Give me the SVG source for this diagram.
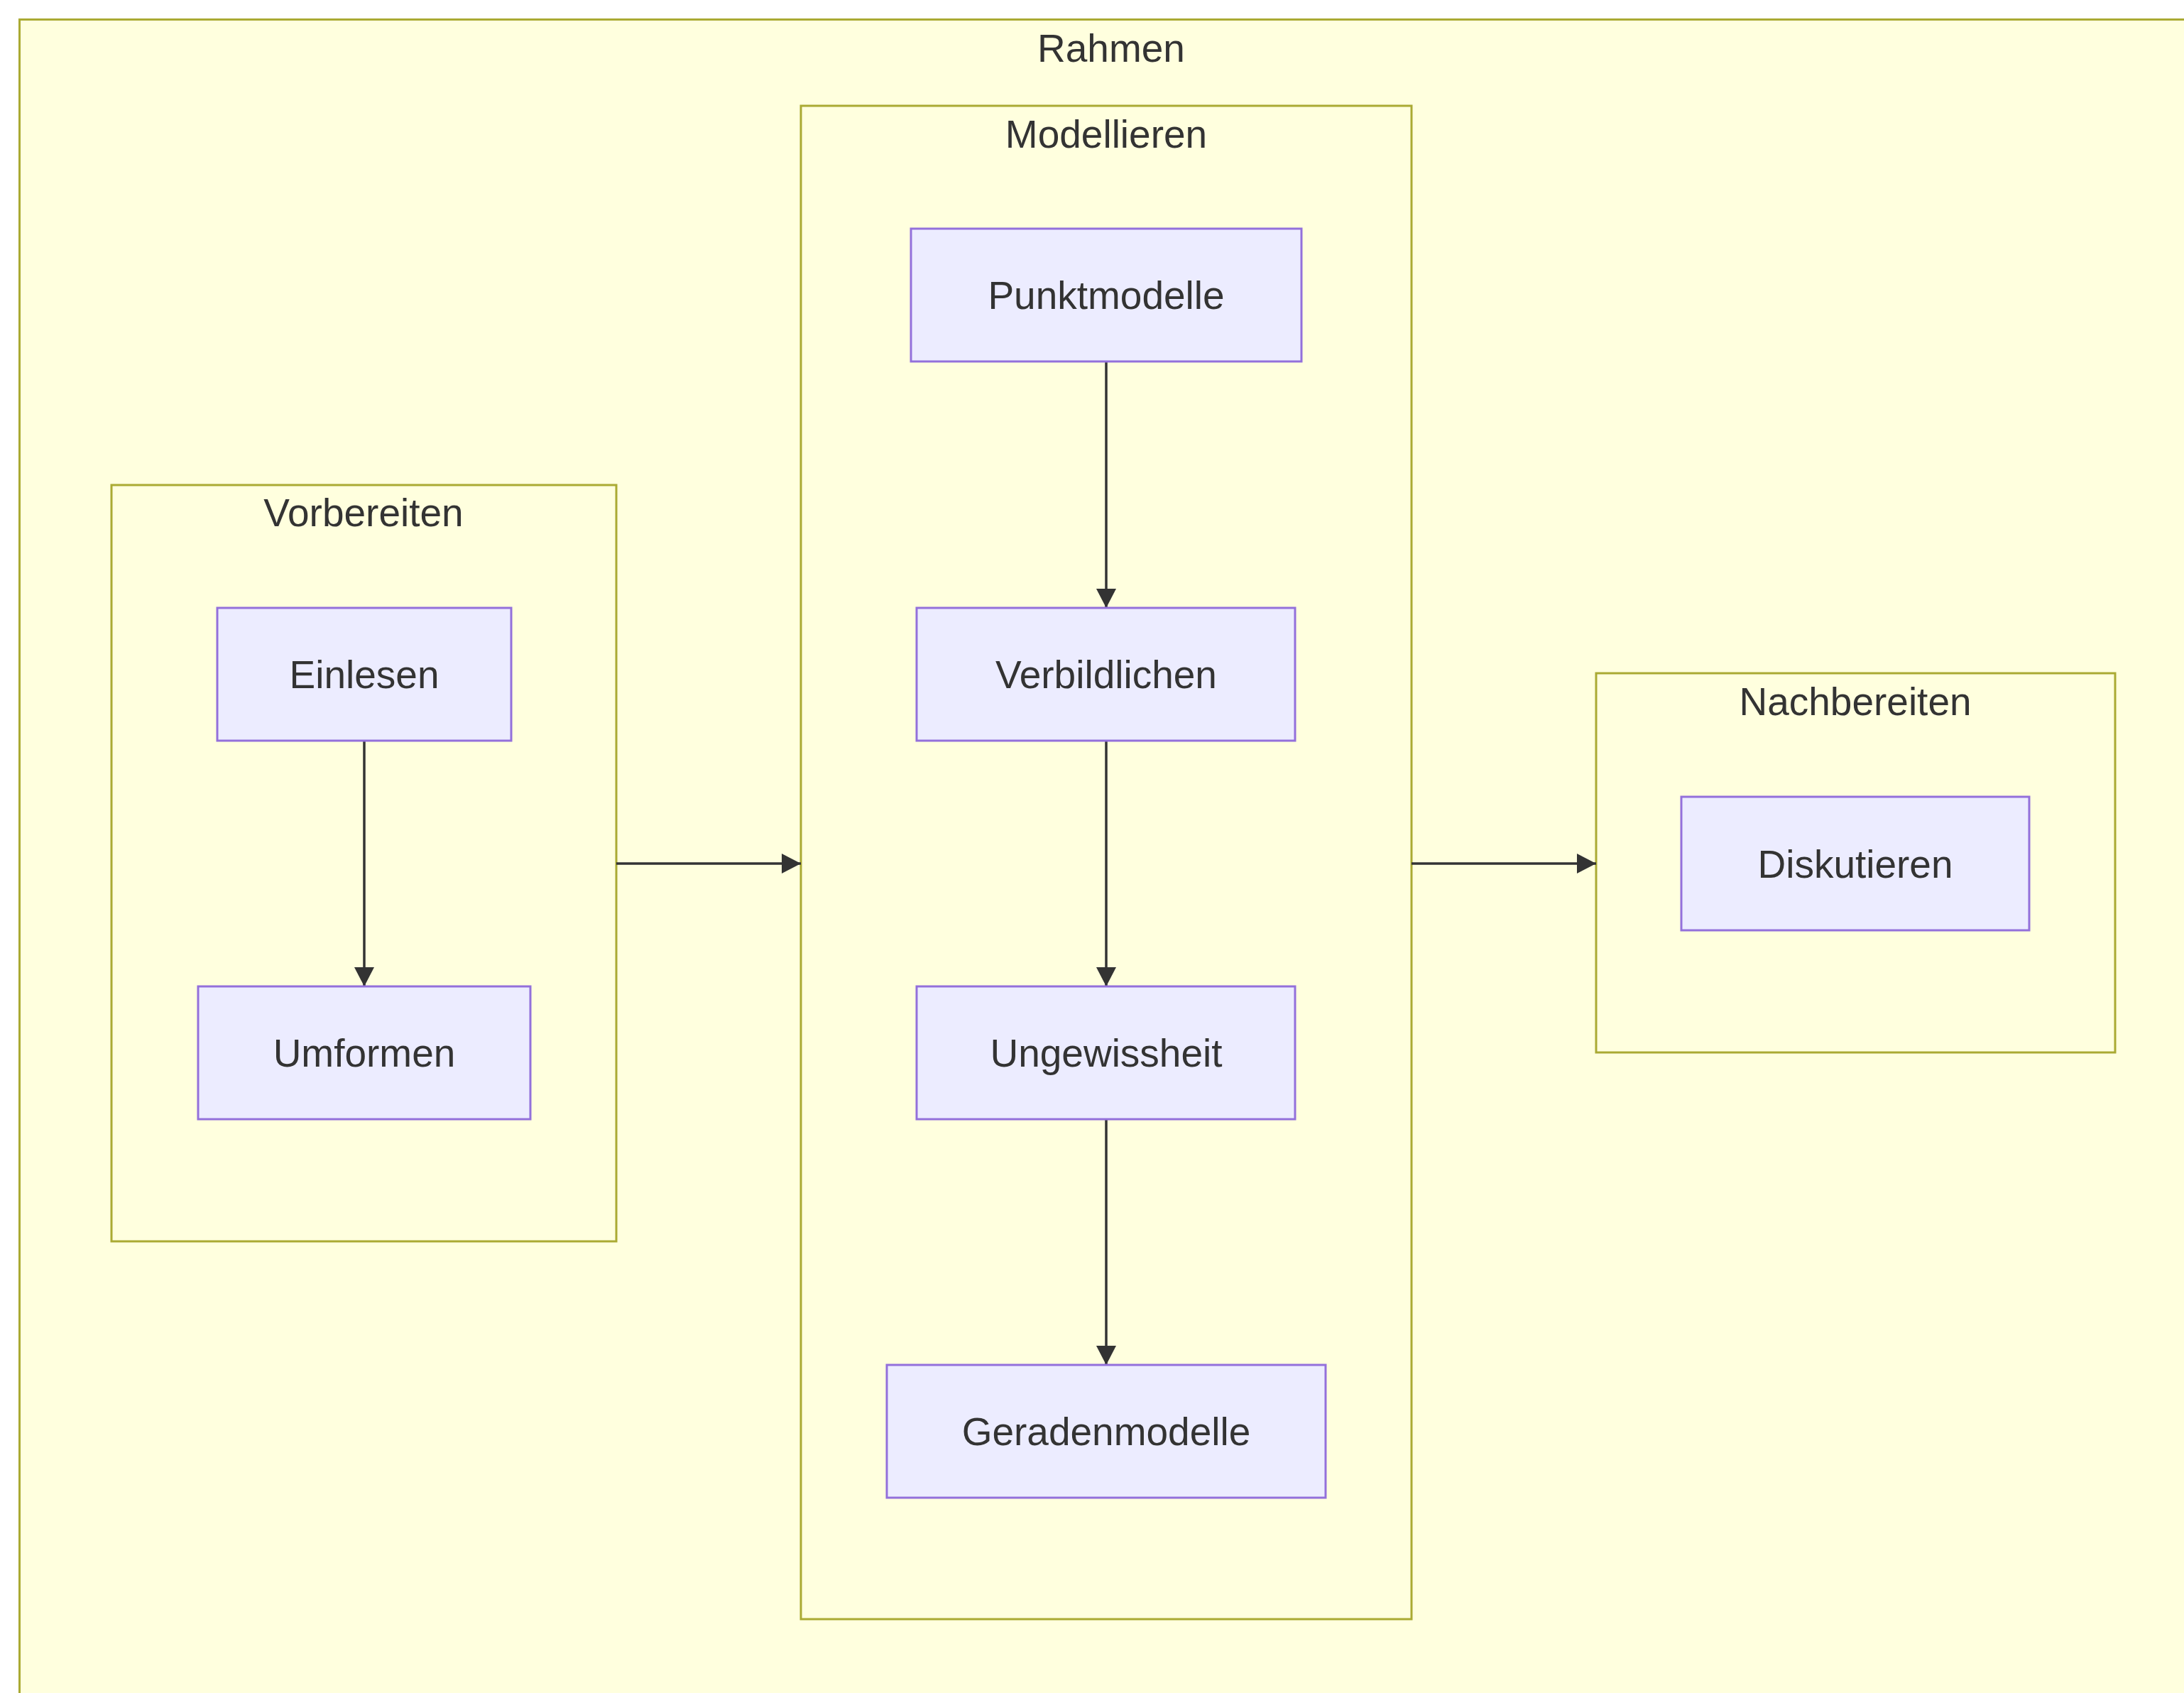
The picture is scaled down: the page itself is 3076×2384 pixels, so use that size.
<svg xmlns="http://www.w3.org/2000/svg" width="3076" height="2384" viewBox="0 0 3076 2384">
<defs>
<style>
.cluster{fill:#ffffde;stroke:#aaaa33;stroke-width:3}
.node rect{fill:#ececff;stroke:#9370db;stroke-width:3}
.lbl{font-family:"Liberation Sans",Arial,sans-serif;font-size:55px;fill:#333333;text-anchor:middle}
.edge{stroke:#333333;stroke-width:3.5;fill:none}
</style>
<marker id="arrow" markerUnits="userSpaceOnUse" markerWidth="28" markerHeight="28" refX="27" refY="14" orient="auto">
<path d="M0,0 L27,14 L0,28 Z" fill="#333333"/>
</marker>
</defs>
<rect width="3076" height="2384" fill="#ffffff"/>
<g id="cluster-Rahmen">
<rect class="cluster" x="27.5" y="27.5" width="3150" height="2500"/>
<text class="lbl" x="1565" y="87">Rahmen</text>
</g>
<g id="cluster-Vorbereiten">
<rect class="cluster" x="157" y="683" width="711" height="1065"/>
<text class="lbl" x="512" y="741">Vorbereiten</text>
</g>
<g id="cluster-Modellieren">
<rect class="cluster" x="1128" y="149" width="860" height="2131"/>
<text class="lbl" x="1558" y="208">Modellieren</text>
</g>
<g id="cluster-Nachbereiten">
<rect class="cluster" x="2248" y="948" width="731" height="534"/>
<text class="lbl" x="2613" y="1007">Nachbereiten</text>
</g>
<g id="connectors">
<line class="edge" x1="513" y1="1043" x2="513" y2="1389" marker-end="url(#arrow)"/>
<line class="edge" x1="1558" y1="509" x2="1558" y2="856" marker-end="url(#arrow)"/>
<line class="edge" x1="1558" y1="1043" x2="1558" y2="1389" marker-end="url(#arrow)"/>
<line class="edge" x1="1558" y1="1576" x2="1558" y2="1922" marker-end="url(#arrow)"/>
<line class="edge" x1="868" y1="1216" x2="1128" y2="1216" marker-end="url(#arrow)"/>
<line class="edge" x1="1988" y1="1216" x2="2248" y2="1216" marker-end="url(#arrow)"/>
</g>
<g id="node-Einlesen" class="node">
<rect x="306" y="856" width="414" height="187"/>
<text class="lbl" x="513" y="969">Einlesen</text>
</g>
<g id="node-Umformen" class="node">
<rect x="279" y="1389" width="468" height="187"/>
<text class="lbl" x="513" y="1502">Umformen</text>
</g>
<g id="node-Punktmodelle" class="node">
<rect x="1283" y="322" width="550" height="187"/>
<text class="lbl" x="1558" y="435">Punktmodelle</text>
</g>
<g id="node-Verbildlichen" class="node">
<rect x="1291" y="856" width="533" height="187"/>
<text class="lbl" x="1558" y="969">Verbildlichen</text>
</g>
<g id="node-Ungewissheit" class="node">
<rect x="1291" y="1389" width="533" height="187"/>
<text class="lbl" x="1558" y="1502">Ungewissheit</text>
</g>
<g id="node-Geradenmodelle" class="node">
<rect x="1249" y="1922" width="618" height="187"/>
<text class="lbl" x="1558" y="2035">Geradenmodelle</text>
</g>
<g id="node-Diskutieren" class="node">
<rect x="2368" y="1122" width="490" height="188"/>
<text class="lbl" x="2613" y="1236">Diskutieren</text>
</g>
</svg>
